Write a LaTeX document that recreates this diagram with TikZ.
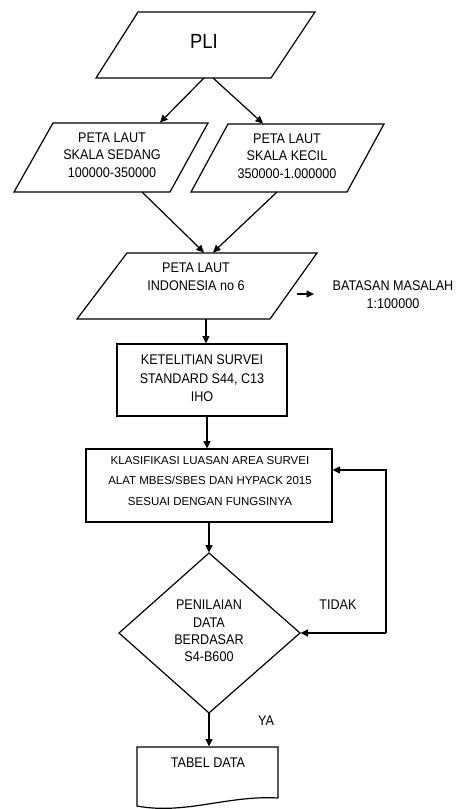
\documentclass[tikz,border=0pt]{standalone}
\usepackage{fontspec}
\setmainfont{Liberation Sans}[FakeStretch=0.9]
\usetikzlibrary{arrows.meta}
\begin{document}
\begin{tikzpicture}[x=1pt,y=-1pt,
  shp/.style={draw=black,line width=1.2pt},
  conn/.style={draw=black,line width=1.2pt,-{Triangle[length=7.5pt,width=7pt]}},
  txt/.style={inner sep=0pt,align=center,font=\fontsize{14}{17.5}\selectfont},
  small/.style={inner sep=0pt,align=center,font=\fontsize{11.5}{20.5}\selectfont\addfontfeatures{FakeStretch=1.0}}]
\useasboundingbox (0,0) rectangle (464,809);
% shapes
\draw[shp] (138,12) -- (315,12) -- (271,78) -- (96,78) -- cycle;
\draw[shp] (53,123) -- (208,123) -- (170,192) -- (14,192) -- cycle;
\draw[shp] (228,124) -- (384,124) -- (347,192) -- (191,192) -- cycle;
\draw[shp] (127,253) -- (317,253) -- (270,319) -- (77,319) -- cycle;
\draw[shp] (117,344) rectangle (287,416);
\draw[shp] (86,449) rectangle (332,522);
\draw[shp] (209,553) -- (300,633) -- (209,713) -- (119,633) -- cycle;
\draw[shp] (278,798) -- (278,747) -- (137,747) -- (137,806)
  .. controls (185,815) and (228,795) .. (278,798);
% texts
\node[txt,font=\fontsize{20.5}{24}\selectfont] (pli) at (204,41) {PLI};
\node[txt] (sedang) at (112,155) {PETA LAUT\\SKALA SEDANG\\100000-350000};
\node[txt] (kecil) at (287,156) {PETA LAUT\\SKALA KECIL\\350000-1.000000};
\node[txt] (indo) at (196,276.5) {PETA LAUT\\INDONESIA no 6};
\node[txt] (batas) at (393,294.5) {BATASAN MASALAH\\1:100000};
\node[txt,font=\fontsize{14}{18.5}\selectfont] (teliti) at (202,378.5) {KETELITIAN SURVEI\\STANDARD S44, C13\\IHO};
\node[small] (klas) at (210,481) {KLASIFIKASI LUASAN AREA SURVEI\\ALAT MBES/SBES DAN HYPACK 2015\\SESUAI DENGAN FUNGSINYA};
\node[txt,font=\fontsize{14}{17.3}\selectfont] (nilai) at (209,631) {PENILAIAN\\DATA\\BERDASAR\\S4-B600};
\node[txt] (tidak) at (338,605) {TIDAK};
\node[txt] (ya) at (266,721) {YA};
\node[txt] (tabel) at (208,763) {TABEL DATA};
% connector end points
\coordinate (p1) at (204,78);  \coordinate (s1) at (160,122.5);
\coordinate (p2) at (213,78);  \coordinate (k1) at (263,123.5);
\coordinate (s2) at (142,192); \coordinate (i1) at (204,252.5);
\coordinate (k2) at (277,192); \coordinate (i2) at (213,252.5);
\coordinate (a1) at (297,294); \coordinate (b1) at (314,294);
\coordinate (i3) at (206,319); \coordinate (t1) at (206,343.5);
\coordinate (t2) at (207,416); \coordinate (c1) at (207,448.5);
\coordinate (c2) at (209,522); \coordinate (d1) at (209,552.5);
\coordinate (d2) at (209,713); \coordinate (e1) at (209,746.5);
\coordinate (lp1) at (386,633); \coordinate (lp2) at (386,470);
\coordinate (c3) at (332.5,470); \coordinate (d3) at (300.5,633);
% connectors
\draw[conn] (p1) -- (s1);
\draw[conn] (p2) -- (k1);
\draw[conn] (s2) -- (i1);
\draw[conn] (k2) -- (i2);
\draw[conn] (a1) -- (b1);
\draw[conn] (i3) -- (t1);
\draw[conn] (t2) -- (c1);
\draw[conn] (c2) -- (d1);
\draw[conn] (d2) -- (e1);
\draw[conn] (lp1) -- (d3);
\draw[conn] (lp1) -- (lp2) -- (c3);
\end{tikzpicture}
\end{document}
